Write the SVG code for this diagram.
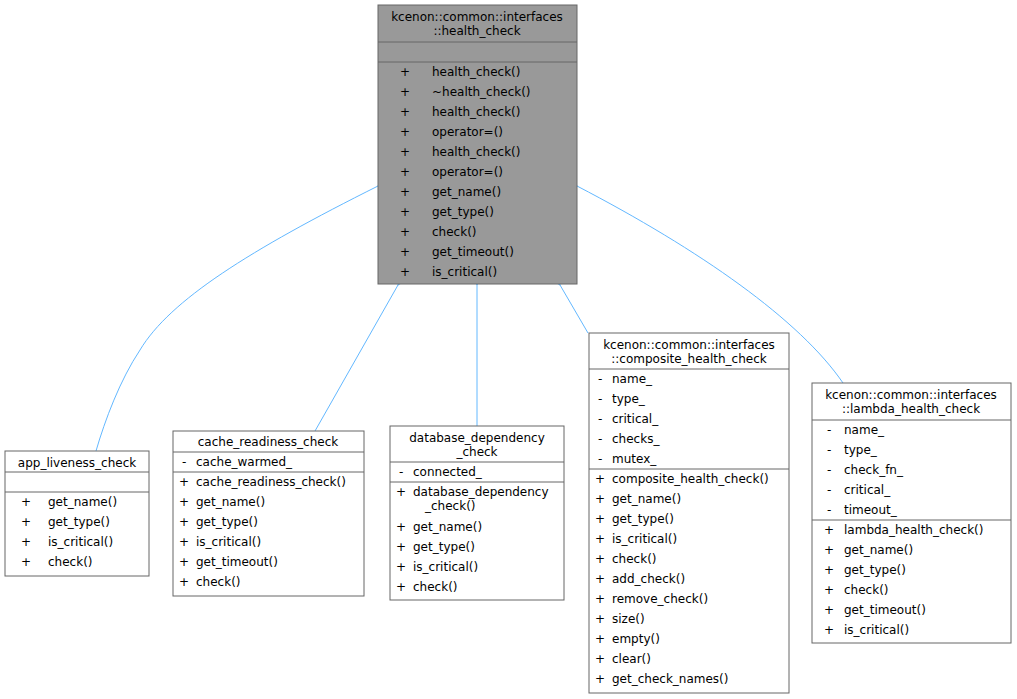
<svg xmlns="http://www.w3.org/2000/svg" width="1017" height="699" viewBox="0 0 1017 699">
<style>
text{font-family:"DejaVu Sans",sans-serif;font-size:12px;fill:#000}
.c{text-anchor:middle}
.b{fill:#fff;stroke:#666;stroke-width:1}
.g{fill:#999;stroke:#666;stroke-width:1}
.l{stroke:#666;stroke-width:1}
.e{fill:none;stroke:#63b8ff;stroke-width:1;marker-start:url(#t)}
</style>
<defs><marker id="t" markerWidth="12" markerHeight="12" refX="1" refY="5" orient="auto-start-reverse" markerUnits="userSpaceOnUse"><path d="M11,0 L1,5 L11,10 Z" fill="#fff" stroke="#63b8ff"/></marker></defs>
<rect width="1017" height="699" fill="#fff"/>
<g id="connectors">
<path class="e" d="M378,186 C250,250 170,300 140,350 C120,380 105,420 96,451"/>
<path class="e" d="M398,285 L315,431"/>
<path class="e" d="M477,285 L477,426"/>
<path class="e" d="M560,285 L588,333"/>
<path class="e" d="M577,186 C700,250 800,320 843,383"/>
</g>
<g id="health_check">
<rect class="g" x="378" y="5" width="199" height="279"/>
<text class="c" x="477" y="21">kcenon::common::interfaces</text>
<text class="c" x="477" y="35">::health_check</text>
<line class="l" x1="378" y1="42" x2="577" y2="42"/><line class="l" x1="378" y1="62" x2="577" y2="62"/>
<text x="400" y="76">+</text><text x="432" y="76">health_check()</text>
<text x="400" y="96">+</text><text x="432" y="96">~health_check()</text>
<text x="400" y="116">+</text><text x="432" y="116">health_check()</text>
<text x="400" y="136">+</text><text x="432" y="136">operator=()</text>
<text x="400" y="156">+</text><text x="432" y="156">health_check()</text>
<text x="400" y="176">+</text><text x="432" y="176">operator=()</text>
<text x="400" y="196">+</text><text x="432" y="196">get_name()</text>
<text x="400" y="216">+</text><text x="432" y="216">get_type()</text>
<text x="400" y="236">+</text><text x="432" y="236">check()</text>
<text x="400" y="256">+</text><text x="432" y="256">get_timeout()</text>
<text x="400" y="276">+</text><text x="432" y="276">is_critical()</text>
</g>
<g id="app_liveness_check">
<rect class="b" x="5" y="451" width="144" height="125"/>
<text class="c" x="77" y="467">app_liveness_check</text>
<line class="l" x1="5" y1="472" x2="149" y2="472"/><line class="l" x1="5" y1="492" x2="149" y2="492"/>
<text x="21" y="506">+</text><text x="48" y="506">get_name()</text>
<text x="21" y="526">+</text><text x="48" y="526">get_type()</text>
<text x="21" y="546">+</text><text x="48" y="546">is_critical()</text>
<text x="21" y="566">+</text><text x="48" y="566">check()</text>
</g>
<g id="cache_readiness_check">
<rect class="b" x="173" y="431" width="191" height="165"/>
<text class="c" x="268" y="446">cache_readiness_check</text>
<line class="l" x1="173" y1="452" x2="364" y2="452"/>
<text x="182" y="466">-</text><text x="196" y="466">cache_warmed_</text>
<line class="l" x1="173" y1="472" x2="364" y2="472"/>
<text x="179" y="486">+</text><text x="196" y="486">cache_readiness_check()</text>
<text x="179" y="506">+</text><text x="196" y="506">get_name()</text>
<text x="179" y="526">+</text><text x="196" y="526">get_type()</text>
<text x="179" y="546">+</text><text x="196" y="546">is_critical()</text>
<text x="179" y="566">+</text><text x="196" y="566">get_timeout()</text>
<text x="179" y="586">+</text><text x="196" y="586">check()</text>
</g>
<g id="database_dependency_check">
<rect class="b" x="390" y="426" width="174" height="174"/>
<text class="c" x="477" y="442">database_dependency</text>
<text class="c" x="477" y="456">_check</text>
<line class="l" x1="390" y1="462" x2="564" y2="462"/>
<text x="399" y="476">-</text><text x="413" y="476">connected_</text>
<line class="l" x1="390" y1="482" x2="564" y2="482"/>
<text x="396" y="496">+</text><text x="413" y="496">database_dependency</text>
<text x="425" y="510">_check()</text>
<text x="396" y="531">+</text><text x="413" y="531">get_name()</text>
<text x="396" y="551">+</text><text x="413" y="551">get_type()</text>
<text x="396" y="571">+</text><text x="413" y="571">is_critical()</text>
<text x="396" y="591">+</text><text x="413" y="591">check()</text>
</g>
<g id="composite_health_check">
<rect class="b" x="589" y="333" width="200" height="360"/>
<text class="c" x="689" y="349">kcenon::common::interfaces</text>
<text class="c" x="689" y="363">::composite_health_check</text>
<line class="l" x1="589" y1="369" x2="789" y2="369"/>
<text x="598" y="383">-</text><text x="612" y="383">name_</text>
<text x="598" y="403">-</text><text x="612" y="403">type_</text>
<text x="598" y="423">-</text><text x="612" y="423">critical_</text>
<text x="598" y="443">-</text><text x="612" y="443">checks_</text>
<text x="598" y="463">-</text><text x="612" y="463">mutex_</text>
<line class="l" x1="589" y1="469" x2="789" y2="469"/>
<text x="595" y="483">+</text><text x="612" y="483">composite_health_check()</text>
<text x="595" y="503">+</text><text x="612" y="503">get_name()</text>
<text x="595" y="523">+</text><text x="612" y="523">get_type()</text>
<text x="595" y="543">+</text><text x="612" y="543">is_critical()</text>
<text x="595" y="563">+</text><text x="612" y="563">check()</text>
<text x="595" y="583">+</text><text x="612" y="583">add_check()</text>
<text x="595" y="603">+</text><text x="612" y="603">remove_check()</text>
<text x="595" y="623">+</text><text x="612" y="623">size()</text>
<text x="595" y="643">+</text><text x="612" y="643">empty()</text>
<text x="595" y="663">+</text><text x="612" y="663">clear()</text>
<text x="595" y="683">+</text><text x="612" y="683">get_check_names()</text>
</g>
<g id="lambda_health_check">
<rect class="b" x="812" y="383" width="199" height="260"/>
<text class="c" x="911" y="399">kcenon::common::interfaces</text>
<text class="c" x="911" y="413">::lambda_health_check</text>
<line class="l" x1="812" y1="420" x2="1011" y2="420"/>
<text x="827" y="434">-</text><text x="844" y="434">name_</text>
<text x="827" y="454">-</text><text x="844" y="454">type_</text>
<text x="827" y="474">-</text><text x="844" y="474">check_fn_</text>
<text x="827" y="494">-</text><text x="844" y="494">critical_</text>
<text x="827" y="514">-</text><text x="844" y="514">timeout_</text>
<line class="l" x1="812" y1="520" x2="1011" y2="520"/>
<text x="824" y="534">+</text><text x="844" y="534">lambda_health_check()</text>
<text x="824" y="554">+</text><text x="844" y="554">get_name()</text>
<text x="824" y="574">+</text><text x="844" y="574">get_type()</text>
<text x="824" y="594">+</text><text x="844" y="594">check()</text>
<text x="824" y="614">+</text><text x="844" y="614">get_timeout()</text>
<text x="824" y="634">+</text><text x="844" y="634">is_critical()</text>
</g>
</svg>
